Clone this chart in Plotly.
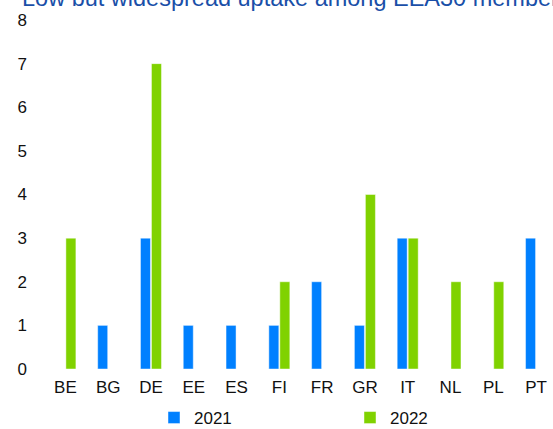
import plotly.graph_objects as go

countries = ["BE", "BG", "DE", "EE", "ES", "FI", "FR", "GR", "IT", "NL", "PL", "PT"]
v2021 = [0, 1, 3, 1, 1, 1, 2, 1, 3, 0, 0, 3]
v2022 = [3, 0, 7, 0, 0, 2, 0, 4, 3, 2, 2, 0]
y_ticks = [0, 1, 2, 3, 4, 5, 6, 7, 8]
title_text = "Low but widespread uptake among EEA30 members"

BLUE = "#0080FF"
GREEN = "#80D200"
FONT = "Liberation Sans, Arial, sans-serif"

fig = go.Figure()
fig.add_trace(go.Bar(name="2021", x=countries, y=v2021,
                     marker=dict(color=BLUE, line=dict(color="rgba(255,255,255,0.45)", width=1))))
fig.add_trace(go.Bar(name="2022", x=countries, y=v2022,
                     marker=dict(color=GREEN, line=dict(color="rgba(255,255,255,0.45)", width=1))))

W, H = 553, 429
ML, MT, MB = 44, 20, 60
PW, PH = W - ML, H - MT - MB

fig.update_layout(
    width=W, height=H,
    margin=dict(l=ML, r=0, t=MT, b=MB, autoexpand=False),
    paper_bgcolor="white", plot_bgcolor="white",
    barmode="group", bargap=0.486, bargroupgap=0.09,
    font=dict(family=FONT, size=17, color="#111111"),
    xaxis=dict(range=[-0.5, 11.396], showgrid=False, showline=False, zeroline=False,
               automargin=False,
               ticks="", tickfont=dict(size=17, color="#111111"), ticklabelstandoff=6),
    yaxis=dict(range=[0, 8], tickvals=y_ticks, showgrid=False, showline=False, zeroline=False,
               automargin=False,
               ticks="", tickfont=dict(size=17, color="#111111"), ticklabelstandoff=16),
    showlegend=True,
    legend=dict(orientation="h", x=154 / W, xanchor="left", xref="container",
                y=1 - 418 / H, yanchor="middle", yref="container",
                entrywidth=151, entrywidthmode="pixels",
                font=dict(size=17, color="#111111"), bgcolor="rgba(0,0,0,0)"),
    annotations=[dict(text=title_text, showarrow=False,
                      xref="paper", yref="paper",
                      x=(20 - ML) / PW, xanchor="left",
                      y=1 + (MT - 13) / PH, yanchor="bottom",
                      font=dict(family=FONT, size=23.5, color="#1A4FA8"))],
)

fig.write_html("out.html", config={"displayModeBar": False},
               post_script="document.body.style.margin='0';document.body.style.overflow='hidden';")
